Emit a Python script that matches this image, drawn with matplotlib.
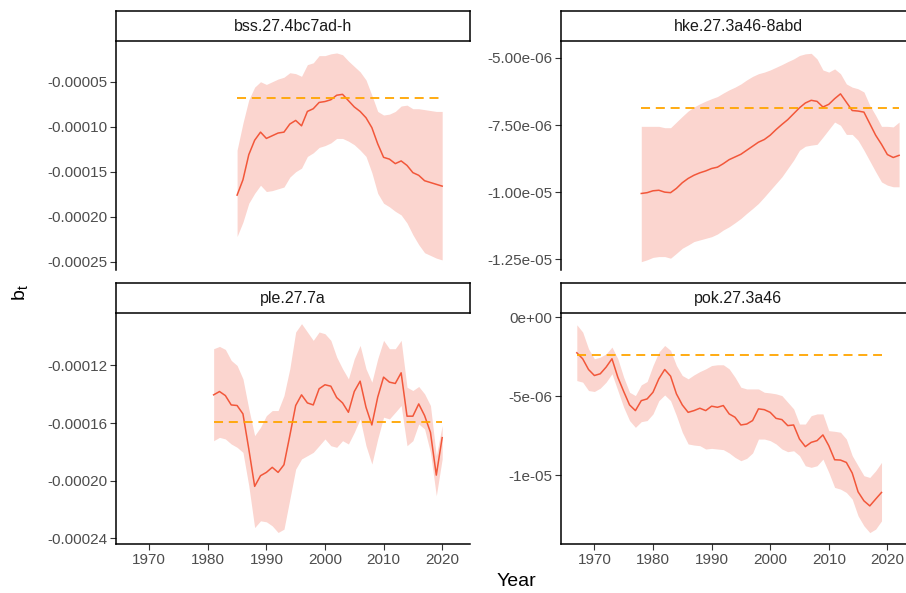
import numpy as np
import matplotlib
matplotlib.use("Agg")
import matplotlib.pyplot as plt
from matplotlib.ticker import FuncFormatter

plt.rcParams['font.family'] = ['Liberation Sans', 'DejaVu Sans']

# ---- data ----
stocks = ["bss.27.4bc7ad-h", "hke.27.3a46-8abd", "ple.27.7a", "pok.27.3a46"]

bss_years = np.arange(1985, 2021)
bss_mean = np.array([-17.6, -15.9, -13.1, -11.5, -10.6, -11.3, -11.0, -10.7, -10.6, -9.7,
                     -9.3, -9.9, -8.3, -8.0, -7.3, -7.2, -7.0, -6.5, -6.4, -7.1,
                     -7.8, -8.3, -9.0, -10.1, -11.9, -13.4, -13.6, -14.1, -13.8, -14.3,
                     -15.1, -15.4, -16.0, -16.2, -16.4, -16.6]) * 1e-5
bss_upper = np.array([-12.6, -9.6, -7.0, -5.6, -5.0, -5.3, -5.0, -4.7, -4.5, -4.0,
                      -4.1, -4.4, -3.1, -2.9, -2.1, -2.1, -1.9, -1.8, -2.0, -2.7,
                      -3.3, -3.9, -4.8, -6.5, -8.3, -8.7, -8.6, -8.3, -7.7, -7.6,
                      -8.0, -8.0, -8.1, -8.2, -8.3, -8.3]) * 1e-5
bss_lower = np.array([-22.2, -20.6, -18.5, -17.4, -16.5, -17.2, -17.1, -16.9, -16.7, -15.6,
                      -15.0, -14.6, -13.3, -12.9, -12.3, -12.1, -11.8, -11.3, -11.3, -11.6,
                      -12.0, -12.6, -13.3, -15.1, -17.4, -18.5, -18.9, -19.4, -19.8, -20.7,
                      -22.0, -23.1, -24.0, -24.3, -24.6, -24.8]) * 1e-5
bss_ref = -6.84e-5

hke_years = np.arange(1978, 2023)
hke_mean = np.array([-10.05, -10.02, -9.95, -9.93, -10.00, -10.02, -9.86, -9.65, -9.49, -9.37,
                     -9.28, -9.21, -9.12, -9.07, -8.94, -8.79, -8.69, -8.59, -8.44, -8.29,
                     -8.14, -8.04, -7.88, -7.67, -7.48, -7.30, -7.08, -6.86, -6.68, -6.58,
                     -6.62, -6.83, -6.73, -6.52, -6.34, -6.65, -6.96, -6.98, -7.02, -7.45,
                     -7.88, -8.22, -8.60, -8.71, -8.63]) * 1e-6
hke_upper = np.array([-7.55, -7.55, -7.55, -7.55, -7.60, -7.60, -7.39, -7.18, -6.98, -6.83,
                      -6.71, -6.61, -6.52, -6.44, -6.31, -6.19, -6.09, -5.97, -5.82, -5.69,
                      -5.59, -5.53, -5.45, -5.35, -5.25, -5.14, -5.04, -4.91, -4.85, -4.83,
                      -5.04, -5.45, -5.53, -5.41, -5.59, -5.97, -6.09, -6.15, -6.27, -6.77,
                      -7.14, -7.55, -7.55, -7.57, -7.39]) * 1e-6
hke_lower = np.array([-12.59, -12.52, -12.43, -12.40, -12.40, -12.46, -12.28, -12.09, -11.97, -11.84,
                      -11.78, -11.72, -11.66, -11.56, -11.41, -11.29, -11.14, -10.98, -10.79, -10.61,
                      -10.42, -10.18, -9.93, -9.68, -9.43, -9.12, -8.81, -8.44, -8.29, -8.25,
                      -8.22, -7.95, -7.67, -7.39, -7.51, -7.85, -7.85, -8.07, -8.44, -8.84,
                      -9.24, -9.62, -9.74, -9.80, -9.80]) * 1e-6
hke_ref = -6.86e-6

ple_years = np.arange(1981, 2021)
ple_mean = np.array([-14.04, -13.81, -14.09, -14.74, -14.78, -15.36, -17.80, -20.39, -19.65, -19.42,
                     -19.07, -19.42, -18.89, -16.87, -14.78, -14.04, -14.60, -14.74, -13.62, -13.34,
                     -13.44, -14.23, -14.60, -15.25, -13.81, -13.09, -14.90, -16.13, -14.20, -12.81,
                     -13.16, -13.25, -12.51, -15.52, -15.52, -14.67, -15.48, -16.64, -19.61, -17.01]) * 1e-5
ple_upper = np.array([-10.84, -10.68, -10.89, -11.65, -12.00, -12.93, -15.01, -16.87, -16.29, -15.48,
                      -15.13, -15.13, -14.09, -12.23, -9.68, -9.10, -9.68, -10.26, -9.68, -9.80,
                      -10.26, -11.42, -12.23, -12.93, -11.54, -10.61, -12.23, -13.16, -11.54, -10.26,
                      -10.84, -10.84, -10.26, -13.51, -13.74, -13.46, -13.97, -14.78, -18.26, -16.17]) * 1e-5
ple_lower = np.array([-17.22, -16.99, -17.10, -17.45, -17.68, -18.03, -20.35, -23.25, -22.78, -22.85,
                      -23.13, -23.59, -23.36, -21.28, -19.19, -18.49, -18.26, -18.03, -17.57, -17.10,
                      -17.57, -17.68, -17.22, -17.45, -16.64, -15.71, -17.57, -18.84, -17.10, -15.59,
                      -15.71, -15.25, -14.78, -17.57, -17.22, -16.06, -16.41, -18.03, -21.04, -18.49]) * 1e-5
ple_ref = -15.90e-5

pok_years = np.arange(1967, 2020)
pok_mean = np.array([-2.26, -2.64, -3.32, -3.70, -3.59, -3.17, -2.64, -3.81, -4.71, -5.56,
                     -5.92, -5.29, -5.18, -4.76, -3.91, -3.32, -3.74, -4.86, -5.56, -6.03,
                     -5.92, -5.77, -5.92, -5.64, -5.71, -5.60, -6.13, -6.34, -6.83, -6.77,
                     -6.55, -5.81, -5.86, -6.03, -6.41, -6.49, -6.87, -6.83, -7.72, -8.20,
                     -7.93, -7.82, -7.46, -8.14, -9.03, -9.05, -9.20, -9.87, -11.06, -11.63,
                     -11.95, -11.52, -11.10]) * 1e-6
pok_upper = np.array([-0.49, -0.95, -2.01, -2.64, -2.54, -2.33, -1.90, -2.64, -3.81, -4.76,
                      -4.97, -4.29, -4.08, -3.07, -2.22, -1.80, -2.11, -3.07, -3.70, -3.91,
                      -3.66, -3.45, -3.28, -3.07, -3.02, -3.02, -3.28, -3.81, -4.44, -4.55,
                      -4.55, -4.55, -4.76, -4.80, -4.86, -4.97, -5.39, -5.81, -6.77, -6.77,
                      -6.24, -6.13, -6.13, -7.19, -7.23, -7.29, -7.72, -8.77, -9.41, -10.04,
                      -10.15, -9.73, -9.20]) * 1e-6
pok_lower = np.array([-4.02, -4.12, -4.65, -4.71, -4.50, -4.12, -3.59, -4.65, -5.71, -6.55,
                      -6.98, -6.62, -6.55, -6.13, -5.29, -4.93, -5.29, -6.24, -7.29, -8.03,
                      -8.10, -8.14, -8.35, -8.31, -8.35, -8.39, -8.60, -8.88, -9.09, -8.94,
                      -8.60, -7.72, -7.72, -7.82, -8.03, -8.35, -8.52, -8.46, -8.77, -9.41,
                      -9.51, -9.41, -8.99, -9.83, -10.78, -10.89, -11.10, -11.52, -12.58, -13.21,
                      -13.64, -13.42, -12.90]) * 1e-6
pok_ref = -2.39e-6

x_ticks = [1970, 1980, 1990, 2000, 2010, 2020]
bss_yticks = [-5e-5, -10e-5, -15e-5, -20e-5, -25e-5]
hke_yticks = [-5e-6, -7.5e-6, -10e-6, -12.5e-6]
ple_yticks = [-12e-5, -16e-5, -20e-5, -24e-5]
pok_yticks = [0.0, -5e-6, -10e-6]

# ---- layout (pixels) ----
W, H = 906, 593
fig = plt.figure(figsize=(W / 100, H / 100), dpi=100)


def box(left, top, right, bottom):
    return [left / W, 1 - bottom / H, (right - left) / W, (bottom - top) / H]


cols = [(115.5, 470.0), (560.7, 915.2)]
rows = [(10.7, 40.7, 270.0), (283.3, 312.7, 544.3)]

RED = "#F2573A"
FILL = "#FBD5CF"
ORANGE = "#FFA500"
TICKC = "#4D4D4D"

panels = [
    (stocks[0], bss_years, bss_mean, bss_lower, bss_upper, bss_ref, bss_yticks,
     lambda v, p: f"{v:.5f}", (-25.92e-5, -0.44e-5)),
    (stocks[1], hke_years, hke_mean, hke_lower, hke_upper, hke_ref, hke_yticks,
     lambda v, p: f"{v:.2e}", (-12.90e-6, -4.36e-6)),
    (stocks[2], ple_years, ple_mean, ple_lower, ple_upper, ple_ref, ple_yticks,
     lambda v, p: f"{v:.5f}", (-24.41e-5, -8.34e-5)),
    (stocks[3], pok_years, pok_mean, pok_lower, pok_upper, pok_ref, pok_yticks,
     lambda v, p: f"{v:.0e}", (-14.38e-6, 0.275e-6)),
]

for i, (name, yrs, mean, lo, hi, ref, yt, fmt, ylim) in enumerate(panels):
    r, c = divmod(i, 2)
    left, right = cols[c]
    s_top, a_top, a_bot = rows[r]

    ax = fig.add_axes(box(left, a_top, right, a_bot))
    ax.fill_between(yrs, lo, hi, color=FILL, lw=0)
    ax.plot(yrs, mean, color=RED, lw=1.1)
    ax.plot([yrs[0], yrs[-1]], [ref, ref], color=ORANGE, lw=1.3, dashes=(5, 3.2))

    ax.set_xlim(1964.25, 2024.75)
    ax.set_ylim(*ylim)
    ax.set_yticks(yt)
    ax.yaxis.set_major_formatter(FuncFormatter(fmt))
    ax.set_xticks(x_ticks)
    for sp in ["top", "right"]:
        ax.spines[sp].set_visible(False)
    ax.spines["left"].set_linewidth(1.1)
    ax.spines["bottom"].set_linewidth(1.1)
    ax.tick_params(colors="#333333", labelcolor=TICKC, labelsize=11, length=4, width=0.8, pad=2)
    if r == 0:
        ax.spines["bottom"].set_visible(False)
        ax.tick_params(axis="x", bottom=False, labelbottom=False)

    # facet strip
    st = fig.add_axes(box(left, s_top, right, a_top))
    st.set_xticks([])
    st.set_yticks([])
    for sp in st.spines.values():
        sp.set_linewidth(1.1)
    st.text(0.5, 0.48, name, ha="center", va="center", fontsize=11.5, color="#1A1A1A",
            transform=st.transAxes)

fig.text(516 / W, 1 - 582 / H, "Year", ha="center", va="center", fontsize=14)
fig.text(20 / W, 1 - 293 / H, r"$\mathregular{b_t}$", ha="center", va="center",
         fontsize=14, rotation=90)

fig.savefig("out.png", dpi=100)
